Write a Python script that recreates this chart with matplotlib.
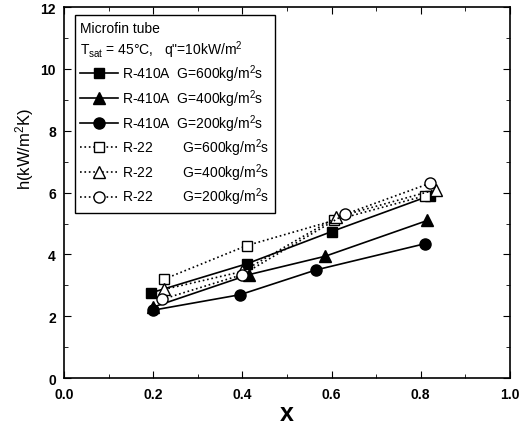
import matplotlib
matplotlib.use("Agg")
import matplotlib.pyplot as plt

plt.rcParams['font.family'] = ['Liberation Sans', 'DejaVu Sans']
plt.rcParams['mathtext.default'] = 'regular'

# R-410A (solid, filled markers)
x_a600 = [0.195, 0.41, 0.60, 0.82]
h_a600 = [2.76, 3.70, 4.74, 5.90]
x_a400 = [0.20, 0.415, 0.585, 0.815]
h_a400 = [2.30, 3.35, 3.94, 5.10]
x_a200 = [0.20, 0.395, 0.565, 0.81]
h_a200 = [2.20, 2.70, 3.50, 4.35]

# R-22 (dotted, open markers)
x_b600 = [0.224, 0.41, 0.605, 0.81]
h_b600 = [3.20, 4.29, 5.10, 5.90]
x_b400 = [0.224, 0.40, 0.61, 0.835]
h_b400 = [2.87, 3.45, 5.20, 6.10]
x_b200 = [0.22, 0.40, 0.63, 0.82]
h_b200 = [2.55, 3.35, 5.30, 6.30]

fig = plt.figure(figsize=(5.3, 4.27), dpi=100)
ax = fig.add_axes([0.121, 0.112, 0.841, 0.869])

ms = 7
ax.plot(x_a600, h_a600, 'k-s', ms=ms, lw=1.2, label='R-410A  G=600kg/m$^2$s')
ax.plot(x_a400, h_a400, 'k-^', ms=ms+1, lw=1.2, label='R-410A  G=400kg/m$^2$s')
ax.plot(x_a200, h_a200, 'k-o', ms=ms+1, lw=1.2, label='R-410A  G=200kg/m$^2$s')
ax.plot(x_b600, h_b600, 'k:s', ms=ms, lw=1.2, mfc='white', label='R-22        G=600kg/m$^2$s')
ax.plot(x_b400, h_b400, 'k:^', ms=ms+1, lw=1.2, mfc='white', label='R-22        G=400kg/m$^2$s')
ax.plot(x_b200, h_b200, 'k:o', ms=ms+1, lw=1.2, mfc='white', label='R-22        G=200kg/m$^2$s')

ax.set_xlim(0, 1.0)
ax.set_ylim(0, 12)
ax.set_xticks([0, 0.2, 0.4, 0.6, 0.8, 1.0])
ax.set_xticks([0.1, 0.3, 0.5, 0.7, 0.9], minor=True)
ax.set_yticks([0, 2, 4, 6, 8, 10, 12])
ax.set_yticks([1, 3, 5, 7, 9, 11], minor=True)
ax.set_xticklabels(['0.0', '0.2', '0.4', '0.6', '0.8', '1.0'], fontweight='bold', fontsize=10)
ax.set_yticklabels(['0', '2', '4', '6', '8', '10', '12'], fontweight='bold', fontsize=10)
ax.tick_params(which='both', direction='in', top=True, right=True)
ax.tick_params(which='major', length=5)
ax.tick_params(which='minor', length=3)
ax.tick_params(axis='x', pad=6)
ax.tick_params(axis='y', pad=6)
for s in ax.spines.values():
    s.set_linewidth(1.2)

ax.set_xlabel('x', fontsize=18, fontweight='bold', labelpad=0)
ax.set_ylabel('h(kW/m$^2$K)', fontsize=12)
ax.yaxis.set_label_coords(-0.062, 0.62)

leg = ax.legend(loc='upper left', bbox_to_anchor=(0.024, 0.978), fontsize=10,
                title='Microfin tube\nT$_{sat}$ = 45°C,   q"=10kW/m$^2$',
                title_fontsize=10, alignment='left', handlelength=2.7,
                labelspacing=0.22, handletextpad=0.3, borderpad=0.4,
                fancybox=False, edgecolor='black', framealpha=1,
                borderaxespad=0)
leg.get_frame().set_linewidth(1.0)

fig.savefig('out.png', dpi=100)
